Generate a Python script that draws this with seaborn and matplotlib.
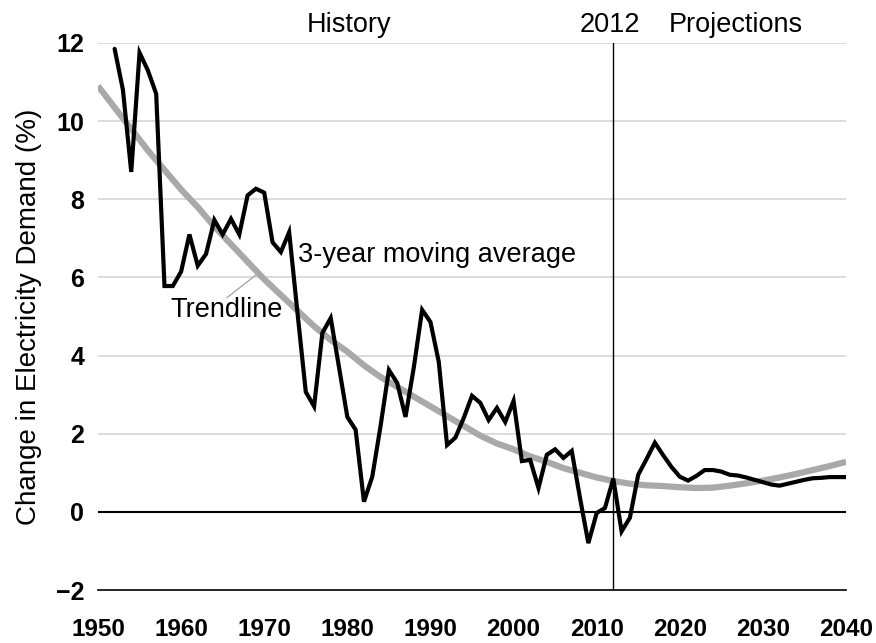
import matplotlib
matplotlib.use("Agg")
import matplotlib.pyplot as plt
import seaborn as sns
import pandas as pd

# 3-year moving average (black line)
ma_years = list(range(1952, 2041))
ma_values = [
    11.85, 10.8, 8.7, 11.75, 11.3, 10.7, 5.78, 5.78, 6.15, 7.1,   # 1952-1961
    6.3, 6.6, 7.47, 7.1, 7.5, 7.1, 8.1, 8.27, 8.17, 6.9,          # 1962-1971
    6.65, 7.16, 5.1, 3.07, 2.7, 4.58, 4.96, 3.7, 2.43, 2.1,       # 1972-1981
    0.26, 0.9, 2.2, 3.63, 3.3, 2.43, 3.7, 5.17, 4.86, 3.84,       # 1982-1991
    1.71, 1.9, 2.4, 2.97, 2.79, 2.35, 2.66, 2.3, 2.84, 1.3,       # 1992-2001
    1.33, 0.61, 1.46, 1.6, 1.38, 1.56, 0.35, -0.8, -0.03, 0.1,    # 2002-2011
    0.85, -0.5, -0.15, 0.95, 1.35, 1.77, 1.45, 1.15, 0.9, 0.8,    # 2012-2021
    0.92, 1.07, 1.07, 1.03, 0.95, 0.93, 0.88, 0.82, 0.76, 0.7,    # 2022-2031
    0.67, 0.72, 0.77, 0.82, 0.86, 0.87, 0.89, 0.89, 0.89,         # 2032-2040
]

# Trendline (gray)
trend_years = list(range(1950, 2041, 2))
trend_values = [
    10.9, 10.35, 9.8, 9.25, 8.75, 8.25, 7.8, 7.3, 6.85, 6.4,
    5.95, 5.55, 5.15, 4.75, 4.4, 4.1, 3.75, 3.45, 3.2, 2.95,
    2.7, 2.45, 2.2, 1.95, 1.75, 1.6, 1.42, 1.28, 1.12, 1.0,
    0.88, 0.79, 0.72, 0.68, 0.66, 0.63, 0.61, 0.62, 0.67, 0.73,
    0.8, 0.88, 0.97, 1.07, 1.17, 1.28,
]

x_ticks = list(range(1950, 2041, 10))
y_ticks = list(range(-2, 13, 2))
split_year = 2012

sns.set_theme(style="white")
plt.rcParams['font.family'] = ['Liberation Sans', 'DejaVu Sans']
plt.rcParams['text.color'] = 'black'
plt.rcParams['axes.labelcolor'] = 'black'
plt.rcParams['xtick.color'] = 'black'
plt.rcParams['ytick.color'] = 'black'

fig = plt.figure(figsize=(8.76, 6.43), dpi=100)
ax = fig.add_axes([98/876, 53/643, 748/876, 547/643])

# gridlines
for y in y_ticks:
    if y in (-2, 0):
        continue
    ax.axhline(y, color="#d9d9d9", lw=1.3, zorder=0)

df_ma = pd.DataFrame({"year": ma_years, "value": ma_values})
df_tr = pd.DataFrame({"year": trend_years, "value": trend_values})

sns.lineplot(data=df_tr, x="year", y="value", ax=ax, color="#a9a9a9", lw=4.5,
             zorder=2, solid_capstyle="butt")
sns.lineplot(data=df_ma, x="year", y="value", ax=ax, color="black", lw=3.0,
             zorder=3, solid_joinstyle="miter")

ax.axhline(0, color="black", lw=1.5, zorder=1)
ax.axvline(split_year, color="black", lw=1.0, zorder=4)

ax.set_xlim(1950, 2040)
ax.set_ylim(-2, 12)
ax.set_xticks(x_ticks)
ax.set_yticks(y_ticks)
ax.set_yticklabels([("\u2212" + str(-v)) if v < 0 else str(v) for v in y_ticks])

for s in ("top", "right", "left"):
    ax.spines[s].set_visible(False)
ax.spines["bottom"].set_color("black")
ax.spines["bottom"].set_linewidth(1.2)

ax.tick_params(axis="x", length=6.5, width=1.0, color="black", direction="out",
               pad=14, labelcolor="black")
ax.tick_params(axis="y", length=0, pad=10, labelcolor="black")
for lab in ax.get_xticklabels():
    lab.set_family(['Liberation Sans Narrow', 'Liberation Sans'])
    lab.set_fontweight("bold")
    lab.set_fontsize(17.5)
for lab in ax.get_yticklabels():
    lab.set_fontweight("bold")
    lab.set_fontsize(18)

ax.set_xlabel("")
ax.set_ylabel("Change in Electricity Demand (%)", fontsize=20, labelpad=10,
              color="black")

# top labels
ax.text(1980.2, 12.46, "History", ha="center", va="center", fontsize=19.5)
ax.text(2011.6, 12.46, "2012", ha="center", va="center", fontsize=19.5)
ax.text(2026.8, 12.46, "Projections", ha="center", va="center", fontsize=19.5)

# annotations
ax.text(1990.8, 6.58, "3-year moving average", ha="center", va="center", fontsize=19.5)
ax.text(1965.5, 5.17, "Trendline", ha="center", va="center", fontsize=19.5)
ax.plot([1965.5, 1969.0], [5.48, 6.06], color="#a9a9a9", lw=1.0, zorder=2)

fig.savefig("out.png", dpi=100)
